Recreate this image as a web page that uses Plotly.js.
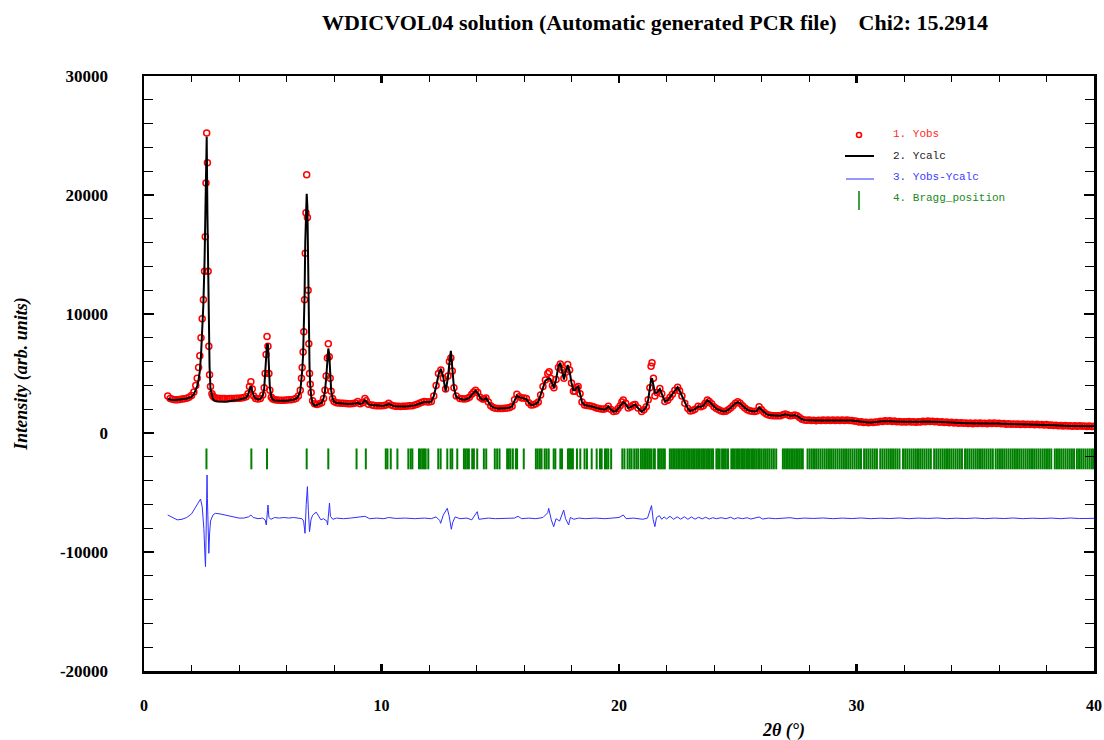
<!DOCTYPE html>
<html>
<head>
<meta charset="utf-8">
<script src="https://cdn.plot.ly/plotly-3.0.1.min.js"></script>
<style>
  html, body { margin: 0; padding: 0; background: #ffffff; }
  #chart { width: 1104px; height: 740px; }
</style>
</head>
<body>
<div id="chart"></div>
<script>
// ---------------- DATA ----------------
// 2theta grid and intensities, region A (1 - 8 deg)
const tthA = [1.0,1.1,1.2,1.3,1.4,1.5,1.6,1.7,1.8,1.9,
  2.0,2.1,2.18,2.24,2.3,2.35,2.4,2.45,2.5,2.55,2.58,2.61,2.64,2.67,2.7,2.73,2.76,2.8,2.86,2.9,2.95,
  3.0,3.1,3.2,3.3,3.4,3.5,3.6,3.7,3.8,3.9,
  4.0,4.1,4.2,4.3,4.38,4.44,4.5,4.56,4.62,4.7,4.8,4.9,
  5.0,5.06,5.1,5.14,5.18,5.22,5.26,5.3,5.36,5.42,5.5,5.6,5.7,5.8,5.9,
  6.0,6.1,6.2,6.3,6.4,6.5,6.58,6.63,6.66,6.7,6.73,6.76,6.79,6.82,6.85,6.88,6.91,6.94,6.97,
  7.0,7.04,7.1,7.18,7.28,7.38,7.48,7.56,7.62,7.67,7.72,7.76,7.8,7.84,7.88,7.94];
const obsA = [3100,2900,2830,2800,2800,2820,2850,2880,2930,3000,
  3150,3450,4000,4600,5500,6500,8000,9600,11200,13600,16500,21000,25200,22700,13600,7300,4900,3900,3300,3100,3000,
  2950,2930,2900,2900,2890,2880,2890,2900,2900,2910,
  2930,2950,2980,3050,3300,3900,4300,3700,3100,2900,2850,2900,
  3200,3800,5000,6600,8100,7300,5000,3600,3000,2850,2800,2780,2760,2750,2760,
  2780,2790,2800,2830,2900,3100,3600,4600,5500,6800,8500,11200,15100,18500,21700,18100,12000,7500,5000,
  4100,3400,2700,2450,2400,2450,2550,2900,3600,4800,6300,7500,6400,4600,3500,2900];
const calcA = [2850,2790,2770,2770,2780,2800,2830,2860,2900,2960,
  3030,3250,3600,3950,4500,5200,6500,8400,10800,14500,19500,23800,24900,18500,12500,10000,5600,3700,3050,2900,2750,
  2680,2650,2630,2620,2630,2650,2670,2700,2730,2760,
  2800,2850,2900,2980,3200,3600,3950,3500,3100,2900,2820,2870,
  3150,3700,4800,6200,7500,7400,5200,3800,3050,2820,2740,2720,2700,2700,2710,
  2720,2740,2760,2800,2880,3100,3500,4300,5200,6600,8500,11500,16000,19500,20100,19000,13000,8200,5500,
  4000,3100,2500,2300,2350,2420,2550,2900,3500,4600,6200,7100,6600,5000,3600,2900];

// region B (8 - 20 deg)
const tthB = [8.0,8.1,8.2,8.3,8.4,8.5,8.6,8.7,8.8,8.9,
  9.0,9.1,9.2,9.3,9.36,9.45,9.6,9.7,9.8,9.9,
  10.0,10.1,10.2,10.3,10.4,10.5,10.6,10.7,10.8,10.9,
  11.0,11.1,11.2,11.3,11.4,11.5,11.6,11.7,11.8,11.9,
  12.0,12.1,12.2,12.3,12.4,12.5,12.6,12.7,12.8,12.86,12.92,12.98,
  13.05,13.15,13.3,13.4,13.5,13.6,13.7,13.8,13.88,13.96,
  14.05,14.15,14.25,14.32,14.4,14.5,14.6,14.7,14.8,14.9,
  15.0,15.1,15.2,15.3,15.4,15.5,15.6,15.7,15.8,15.9,
  16.0,16.1,16.2,16.3,16.4,16.5,16.6,16.7,16.8,16.9,
  17.0,17.06,17.12,17.2,17.26,17.35,17.45,17.53,17.6,17.68,17.76,17.84,17.92,
  18.0,18.08,18.15,18.22,18.28,18.36,18.44,18.55,18.65,18.75,18.85,18.95,
  19.05,19.15,19.25,19.35,19.45,19.55,19.65,19.77,19.88,19.96];
const obsB = [2650,2550,2520,2500,2490,2480,2460,2450,2470,2520,
  2650,2450,2550,2900,2700,2420,2350,2320,2300,2300,
  2300,2320,2350,2500,2350,2280,2250,2240,2230,2240,
  2250,2260,2280,2300,2350,2420,2500,2580,2650,2620,
  2600,2650,3100,4000,5000,5300,4600,3700,4800,6000,6300,5200,
  3800,3100,2900,2870,2850,2900,3000,3250,3450,3600,
  3400,3000,2850,2850,2950,2600,2300,2150,2080,2050,
  2050,2050,2070,2100,2150,2250,2800,3250,3050,2950,
  2950,2900,2550,2350,2380,2450,2600,3200,3900,4450,
  5000,5150,4600,4000,3800,4500,5500,5800,5300,4600,5100,5750,5300,
  4200,3500,3500,3800,3900,3300,2600,2350,2320,2300,2250,2180,
  2100,2050,2020,2000,2050,2250,2000,1800,1850,2050];
const calcB = [2650,2520,2490,2480,2460,2450,2440,2430,2440,2470,
  2550,2420,2500,2750,2650,2400,2350,2320,2300,2290,
  2280,2300,2330,2450,2330,2270,2250,2230,2220,2230,
  2230,2240,2260,2290,2320,2390,2450,2550,2600,2600,
  2580,2650,3100,3900,4900,5400,4700,3500,4700,5900,6900,5500,
  3800,3000,2850,2820,2800,2850,2950,3200,3400,3550,
  3350,2950,2800,2820,2950,2600,2300,2150,2080,2050,
  2050,2050,2070,2100,2150,2230,2700,3150,3000,2950,
  2950,2850,2550,2350,2380,2450,2600,3200,3900,4400,
  4550,4600,4500,4000,3800,4500,5600,5900,5200,4500,5200,5700,5200,
  4200,3600,3600,3850,3900,3300,2600,2350,2320,2300,2250,2180,
  2100,2050,2020,1980,2000,2230,2000,1800,1850,2000];

// region C (20 - 28 deg)
const tthC = [20.05,20.12,20.18,20.28,20.39,20.5,20.6,20.68,20.8,20.95,
  21.05,21.15,21.23,21.3,21.35,21.39,21.45,21.51,21.6,21.72,21.8,21.93,
  22.05,22.15,22.25,22.35,22.47,22.55,22.65,22.77,22.9,
  23.0,23.1,23.2,23.33,23.45,23.55,23.63,23.72,23.8,23.9,
  24.0,24.1,24.2,24.3,24.4,24.5,24.6,24.7,24.8,24.9,
  25.0,25.1,25.2,25.3,25.4,25.5,25.6,25.7,25.8,25.9,
  26.0,26.1,26.2,26.3,26.4,26.5,26.6,26.7,26.8,26.9,
  27.0,27.1,27.2,27.3,27.4,27.5,27.6,27.7,27.8,27.9];
const obsC = [2300,2600,2780,2500,2100,2200,2350,2400,2100,1800,
  1950,2200,2800,3800,5600,5900,4600,3100,3400,3750,3300,2650,
  2750,3000,3250,3600,3850,3550,3100,2500,2050,
  1850,1900,2000,2250,2200,2300,2500,2770,2650,2450,
  2200,2050,1950,1850,1800,1820,1950,2100,2300,2500,
  2630,2500,2300,2100,1950,1880,1820,1800,1850,2200,
  1950,1750,1600,1510,1480,1460,1450,1440,1450,1530,
  1600,1530,1460,1480,1510,1450,1300,1150,1090,1070];
const calcC = [2250,2450,2600,2450,2100,2200,2350,2400,2100,1800,
  1950,2200,2800,3800,4500,4600,4100,3400,3400,3700,3300,2650,
  2750,3000,3250,3550,3850,3550,3100,2500,2050,
  1850,1900,2000,2230,2200,2300,2500,2750,2650,2450,
  2200,2050,1950,1850,1800,1820,1950,2100,2300,2500,
  2600,2500,2300,2100,1950,1880,1820,1800,1850,2150,
  1950,1750,1600,1510,1480,1460,1450,1440,1450,1530,
  1580,1520,1460,1470,1500,1440,1300,1150,1090,1070];

// region D (28 - 40 deg)
const tthD = [28.0,28.1,28.2,28.3,28.4,28.5,28.6,28.7,28.8,28.9,
  29.0,29.1,29.2,29.3,29.4,29.5,29.6,29.7,29.8,29.9,
  30.0,30.1,30.2,30.3,30.4,30.5,30.6,30.7,30.8,30.9,
  31.0,31.1,31.2,31.3,31.4,31.5,31.6,31.7,31.8,31.9,
  32.0,32.1,32.2,32.3,32.4,32.5,32.6,32.7,32.8,32.9,
  33.0,33.1,33.2,33.3,33.4,33.5,33.6,33.7,33.8,33.9,
  34.0,34.1,34.2,34.3,34.4,34.5,34.6,34.7,34.8,34.9,
  35.0,35.1,35.2,35.3,35.4,35.5,35.6,35.7,35.8,35.9,
  36.0,36.1,36.2,36.3,36.4,36.5,36.6,36.7,36.8,36.9,
  37.0,37.1,37.2,37.3,37.4,37.5,37.6,37.7,37.8,37.9,
  38.0,38.1,38.2,38.3,38.4,38.5,38.6,38.7,38.8,38.9,
  39.0,39.1,39.2,39.3,39.4,39.5,39.6,39.7,39.8,39.9,40.0];
const obsD = [1090,1040,1080,1030,1075,1045,1090,1050,1095,1060,
  1100,1050,1085,1040,1090,1055,1095,1045,1060,1000,
  990,925,945,885,905,865,905,875,925,915,
  985,965,1020,985,1020,970,1000,945,970,915,
  955,930,975,925,950,905,955,930,985,955,
  1005,965,995,940,965,910,935,885,915,865,
  895,845,875,825,860,810,845,800,830,785,
  830,795,835,790,825,785,835,805,840,790,
  820,770,795,745,775,730,765,725,760,715,
  755,710,745,705,740,695,730,685,720,675,
  705,650,675,620,650,605,640,590,625,580,
  615,575,610,565,600,560,595,553,590,547,575];
const calcD = [1060,1060,1055,1050,1055,1060,1060,1065,1070,1070,
  1070,1065,1060,1060,1065,1070,1070,1060,1040,1010,
  970,940,920,900,885,880,885,890,900,930,
  960,980,995,1000,995,985,975,960,945,930,
  935,945,950,940,925,920,930,945,960,970,
  980,980,970,955,940,925,910,900,890,880,
  870,860,850,840,835,825,820,815,805,800,
  805,810,810,805,800,800,810,820,815,805,
  795,785,770,760,750,745,740,740,735,730,
  730,725,720,720,715,710,705,700,695,690,
  680,665,650,635,625,620,615,605,600,595,
  590,590,585,580,578,575,570,568,565,562,560];

// difference curve (Yobs - Ycalc, plotted with its offset as in the figure)
const diffX = [1.0,1.1,1.2,1.4,1.6,1.8,2.0,2.15,2.3,2.38,2.45,2.52,2.57,2.59,2.61,2.635,2.655,2.67,2.7,2.73,2.76,2.8,2.9,
  3.0,3.2,3.4,3.6,3.8,4.0,4.2,4.4,4.5,4.6,4.8,5.0,5.1,5.15,5.2,5.22,5.26,5.35,5.5,5.7,5.9,
  6.1,6.3,6.5,6.65,6.72,6.78,6.83,6.88,6.92,6.97,7.03,7.1,7.25,7.35,7.45,7.55,7.7,7.73,7.78,7.81,7.85,7.95,
  8.1,8.4,8.7,9.0,9.3,9.5,9.8,10.1,10.3,10.6,11.0,11.4,11.8,12.1,12.3,12.45,12.49,12.6,12.77,12.85,12.94,
  13.0,13.1,13.3,13.6,13.8,13.95,14.03,14.1,14.3,14.5,14.8,15.2,15.6,15.75,15.9,16.2,16.5,16.8,
  17.0,17.04,17.15,17.25,17.35,17.5,17.6,17.67,17.75,17.88,17.95,18.1,18.3,18.6,19.0,19.4,19.7,
  20.0,20.18,20.3,20.6,21.0,21.2,21.3,21.37,21.44,21.51,21.58,21.7,21.8,21.9,
  22.0,22.15,22.3,22.45,22.6,22.75,22.9,23.05,23.2,23.35,23.5,23.65,23.8,23.95,
  24.1,24.3,24.5,24.7,24.85,25.0,25.2,25.4,25.55,25.75,25.9,26.05,26.3,26.6,26.9,27.2,27.5,27.8,
  28.2,28.6,29.0,29.4,29.8,30.2,30.6,31.0,31.4,31.8,32.2,32.6,33.0,33.4,33.8,34.2,34.6,
  35.0,35.4,35.8,36.2,36.6,37.0,37.4,37.8,38.2,38.6,39.0,39.4,39.8,40.0];
const diffY = [-6890,-7000,-7150,-7300,-7250,-7100,-6800,-6300,-5700,-5550,-6200,-8000,-10500,-11230,-9000,-5000,-3530,-5500,-8500,-10110,-8500,-7400,-6900,
  -6750,-6800,-6900,-7000,-7050,-7150,-7150,-7050,-6890,-7100,-7200,-7150,-7300,-7730,-6500,-6050,-7100,-7250,-7100,-7150,-7100,
  -7150,-7100,-7150,-7200,-7400,-8430,-6000,-4510,-6500,-8290,-7300,-6900,-6650,-7000,-7300,-7200,-7400,-7730,-6500,-5880,-7000,-7250,
  -7150,-7200,-7150,-7100,-7000,-7200,-7150,-7200,-7100,-7180,-7150,-7200,-7150,-7200,-7050,-7350,-7590,-6900,-6330,-7000,-8090,
  -7500,-7050,-7200,-7150,-7300,-6900,-6610,-7250,-7200,-7150,-7200,-7150,-7150,-7000,-7200,-7150,-7200,-7100,
  -6700,-6330,-7300,-7870,-7200,-7400,-6900,-6470,-7200,-7730,-7100,-7250,-7150,-7200,-7150,-7200,-7150,
  -7100,-6890,-7200,-7150,-7250,-7150,-6600,-6100,-7300,-7870,-7100,-6950,-7250,-7050,
  -7220,-7000,-7250,-7050,-7240,-7040,-7250,-7060,-7240,-7080,-7220,-7080,-7230,-7120,
  -7200,-7120,-7200,-7080,-7230,-7120,-7200,-7120,-7230,-7150,-7060,-7230,-7150,-7200,-7150,-7120,-7200,-7150,
  -7180,-7140,-7200,-7150,-7190,-7140,-7200,-7160,-7190,-7140,-7200,-7150,-7180,-7140,-7200,-7160,-7190,
  -7140,-7200,-7150,-7190,-7140,-7200,-7160,-7190,-7150,-7200,-7140,-7190,-7160,-7170];

// Bragg reflection positions (2theta)
const braggPos = [2.63,4.52,5.18,6.85,7.76,8.95,9.34,10.18,10.25,10.39,10.67,11.13,11.23,11.30,
  11.58,11.65,11.72,11.79,11.86,11.97,12.39,12.49,12.77,12.91,12.98,13.19,13.47,13.54,13.61,13.68,
  13.82,13.89,14.03,14.31,14.41,14.77,14.87,14.97,15.29,15.36,15.43,15.53,15.66,15.71,15.99,
  16.50,16.58,16.67,16.74,16.87,16.95,17.04,17.25,17.32,17.53,17.60,17.85,17.90,17.95,18.00,18.06,
  18.23,18.37,18.55,18.65,18.85,19.06,19.20,19.27,19.41,19.48,19.55,19.67,
  20.14,20.23,20.36,20.45,20.53,20.64,20.73,20.81,20.92,20.99,21.06,21.13,21.20,21.27,21.35,21.45,
  21.51,21.65,21.72,21.79,21.86,21.93,
  22.14,22.21,22.28,22.35,22.42,22.49,22.56,22.63,22.70,22.77,22.84,22.91,22.98,23.05,23.12,23.19,
  23.26,23.33,23.40,23.47,23.54,23.61,23.68,23.75,23.82,23.89,23.96,24.10,24.17,24.24,24.34,24.42,
  24.50,24.59,24.73,24.80,24.87,24.94,25.01,25.08,25.15,25.22,25.29,25.36,25.43,25.50,25.57,25.64,
  25.71,25.78,25.86,25.93,26.01,26.10,26.18,26.26,26.34,26.43,26.52,26.62,
  26.90,26.97,27.04,27.11,27.18,27.25,27.32,27.39,27.46,27.53,27.60,27.67,27.74,
  27.94,28.03,28.12,28.21,28.30,28.39,28.48,28.57,28.66,28.75,28.84,28.93,29.02,29.11,29.20,29.29,
  29.38,29.47,29.56,29.65,29.74,29.83,29.92,30.01,30.10,30.19,30.32,30.41,30.50,30.59,30.68,30.77,
  30.86,31.00,31.09,31.18,31.27,31.36,31.45,31.54,31.63,31.72,31.81,31.96,32.05,32.14,32.23,32.32,
  32.41,32.50,32.59,32.68,32.77,32.86,32.95,33.04,33.13,33.27,33.36,33.45,33.54,33.63,33.72,33.81,
  33.90,33.99,34.08,34.17,34.26,34.35,34.44,34.57,34.66,34.75,34.84,34.93,35.02,35.11,35.20,35.29,
  35.38,35.47,35.56,35.65,35.74,35.86,35.95,36.04,36.13,36.22,36.31,36.40,36.49,36.58,36.67,36.76,
  36.85,36.94,37.03,37.12,37.21,37.30,37.39,37.48,37.57,37.66,37.75,37.84,37.93,38.02,38.11,38.20,
  38.35,38.44,38.53,38.62,38.71,38.80,38.89,38.98,39.07,39.16,39.28,39.37,39.46,39.55,39.64,39.73,
  39.82,39.91,39.98];
const braggTickRange = [-1300, -3050];   // intensity span of each Bragg tick

const xTickVals = [0, 10, 20, 30, 40];
const yTickVals = [-20000, -10000, 0, 10000, 20000, 30000];

const titleText = 'WDICVOL04 solution (Automatic generated PCR file)\u00a0\u00a0\u00a0 Chi2: 15.2914';
const legendLabels = ['1. Yobs', '2. Ycalc', '3. Yobs-Ycalc', '4. Bragg_position'];

// ---------------- BUILD ----------------
const tth = tthA.concat(tthB, tthC, tthD);
const yObs = obsA.concat(obsB, obsC, obsD);
const yCalc = calcA.concat(calcB, calcC, calcD);

const bx = [], by = [];
braggPos.forEach(p => { bx.push(p, p, null); by.push(braggTickRange[0], braggTickRange[1], null); });

const RED = '#ff0000', BLUE = '#2f2fff', GREEN = '#008000';
const serif = 'Liberation Serif, Times New Roman, serif';
const mono = 'Liberation Mono, Courier New, monospace';

const traces = [
  { x: tth, y: yObs, type: 'scatter', mode: 'markers', name: legendLabels[0], cliponaxis: true,
    marker: { symbol: 'circle-open', size: 6, color: RED, line: { width: 1.5, color: RED } } },
  { x: tth, y: yCalc, type: 'scatter', mode: 'lines', name: legendLabels[1],
    line: { color: '#000000', width: 2 } },
  { x: diffX, y: diffY, type: 'scatter', mode: 'lines', name: legendLabels[2],
    line: { color: BLUE, width: 1 } },
  { x: bx, y: by, type: 'scatter', mode: 'lines', name: legendLabels[3],
    line: { color: GREEN, width: 2 }, connectgaps: false }
];

// plot area in pixels: left 144, right 1094, top 76, bottom 671
const PL = 144, PR = 1094, PT = 76, PB = 671;
const px = v => (v - PL) / (PR - PL);
const py = v => (PB - v) / (PB - PT);

const legendTextX = px(891);
const shapes = [
  { type: 'circle', xref: 'paper', yref: 'paper', xsizemode: 'pixel', ysizemode: 'pixel',
    xanchor: px(859), yanchor: py(135), x0: -2.5, x1: 2.5, y0: -2.5, y1: 2.5,
    line: { color: RED, width: 1.6 } },
  { type: 'line', xref: 'paper', yref: 'paper', x0: px(845), x1: px(874), y0: py(156), y1: py(156),
    line: { color: '#000000', width: 2 } },
  { type: 'line', xref: 'paper', yref: 'paper', x0: px(846), x1: px(874), y0: py(179), y1: py(179),
    line: { color: BLUE, width: 1 } },
  { type: 'line', xref: 'paper', yref: 'paper', x0: px(859), x1: px(859), y0: py(191), y1: py(210),
    line: { color: GREEN, width: 1.5 } }
];
const legColors = ['#ff2a2a', '#222222', '#3a3aff', '#1a8a1a'];
const legY = [134, 156, 177, 198];
const annotations = legendLabels.map((t, i) => ({
  text: t, xref: 'paper', yref: 'paper', x: legendTextX, y: py(legY[i]),
  xanchor: 'left', yanchor: 'middle', showarrow: false,
  font: { family: mono, size: 11, color: legColors[i] }
}));
annotations.push({
  text: '2\u03b8 (\u00b0)', xref: 'paper', yref: 'paper', x: px(783), y: py(730),
  xanchor: 'center', yanchor: 'middle', showarrow: false,
  font: { family: serif, size: 18, color: '#000', weight: 'bold', style: 'italic' }
});

const layout = {
  width: 1104, height: 740,
  paper_bgcolor: '#ffffff', plot_bgcolor: '#ffffff',
  margin: { l: PL, r: 1104 - PR, t: PT, b: 740 - PB, pad: 0 },
  showlegend: false,
  title: { text: titleText, xref: 'container', yref: 'container', x: 655 / 1104, xanchor: 'center',
    y: 1 - 22 / 740, yanchor: 'middle',
    font: { family: serif, size: 22, color: '#000', weight: 'bold' } },
  xaxis: {
    range: [0, 40.0001], tickmode: 'array', tickvals: xTickVals, ticktext: xTickVals.map(String),
    ticks: 'inside', ticklen: 7, tickwidth: 2.5, tickcolor: '#000',
    minor: { dtick: 2, tick0: 0, ticks: 'inside', ticklen: 6, tickwidth: 1, tickcolor: '#000' },
    showline: true, linewidth: 2.5, linecolor: '#000', mirror: 'ticks',
    showgrid: false, zeroline: false, automargin: false, ticklabelstandoff: 18,
    ticklabeloverflow: 'allow',
    tickfont: { family: serif, size: 16, color: '#000', weight: 'bold' }
  },
  yaxis: {
    range: [-20000, 30000], tickmode: 'array', tickvals: yTickVals, ticktext: yTickVals.map(String),
    ticks: 'inside', ticklen: 10, tickwidth: 2.5, tickcolor: '#000',
    minor: { dtick: 2000, tick0: 0, ticks: 'inside', ticklen: 9, tickwidth: 1, tickcolor: '#000' },
    showline: true, linewidth: 2.5, linecolor: '#000', mirror: 'ticks',
    showgrid: false, zeroline: false, automargin: false, ticklabelstandoff: 30,
    ticklabeloverflow: 'allow',
    tickfont: { family: serif, size: 17, color: '#000', weight: 'bold' },
    title: { text: 'Intensity (arb. units)', standoff: 28,
      font: { family: serif, size: 18, color: '#000', weight: 'bold', style: 'italic' } }
  },
  shapes: shapes,
  annotations: annotations
};

Plotly.newPlot('chart', traces, layout, { displayModeBar: false, staticPlot: true });
</script>
</body>
</html>
